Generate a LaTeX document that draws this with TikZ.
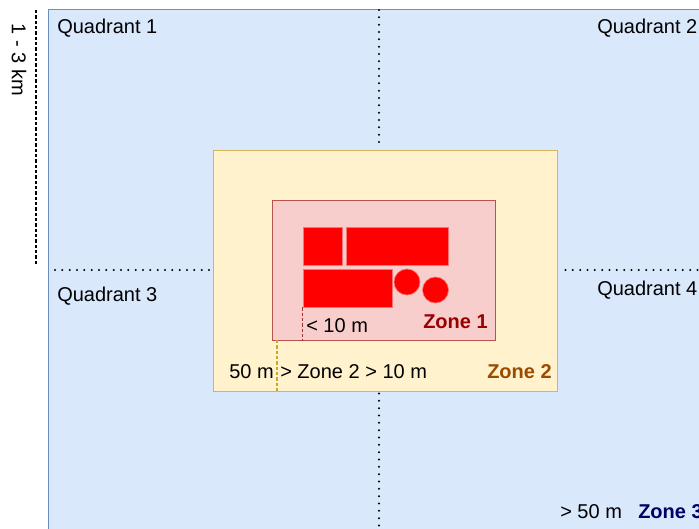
\documentclass[tikz,border=0pt]{standalone}
\usepackage{fontspec}
\setmainfont{Liberation Sans}
\usepackage{xcolor}
\usepackage{tikz}
\usetikzlibrary{positioning}

\definecolor{zthreefill}{HTML}{DAE8FC}
\definecolor{zthreeline}{HTML}{6C8EBF}
\definecolor{ztwofill}{HTML}{FFF2CC}
\definecolor{ztwoline}{HTML}{D6B656}
\definecolor{ztwodash}{HTML}{C8A828}
\definecolor{zonefill}{HTML}{F8CECC}
\definecolor{zoneline}{HTML}{B85450}
\definecolor{zonedash}{HTML}{A0302C}
\definecolor{zonetxt}{HTML}{990000}
\definecolor{ztwotxt}{HTML}{994C00}
\definecolor{zthreetxt}{HTML}{000066}

\begin{document}
\begin{tikzpicture}[
        x=0.75pt, y=-0.75pt,
        txt/.style={inner sep=0pt, anchor=west, font=\fontsize{15}{18}\selectfont},
        ztitle/.style={txt, font=\fontsize{15}{18}\selectfont\bfseries},
        zone/.style={draw, rectangle, line width=0.75pt, inner sep=0pt},
        block/.style={draw=red!55!white, fill=red, rectangle, line width=0.5pt, inner sep=0pt, minimum height=28.5pt},
        wheel/.style={draw=red!55!white, fill=red, circle, line width=0.5pt, inner sep=0pt, minimum size=19.5pt},
        quad/.style={line width=1.7pt, line cap=round, dash pattern=on 0pt off 5.5pt},
        dim/.style={line width=0.8pt, dash pattern=on 2.5pt off 1.5pt}
      ]
        \useasboundingbox (0,0) rectangle (699,528);
        \clip (0,0) rectangle (699,528);

        % zone 3 and the quadrant split
        \draw[fill=zthreefill, draw=zthreeline, line width=0.75pt] (48,10) rectangle (740,560);
        \node[zone, fill=ztwofill, draw=ztwoline, minimum width=258pt, minimum height=180.75pt] (zone2) at (385,270.5) {};
        \node[zone, fill=zonefill, draw=zoneline, minimum width=167.25pt, minimum height=105pt] (zone1) at (383.5,270) {};

        \coordinate (qtop) at (379,10);
        \coordinate (qbot) at (379,528);
        \coordinate (qleft) at (55,270);
        \coordinate (qright) at (699,270);
        \draw[quad] (qtop) -- ([yshift=1.5pt]zone2.north -| qtop);
        \draw[quad] ([yshift=-1.5pt]zone2.south -| qbot) -- (qbot);
        \draw[quad] (qleft) -- ([xshift=-1pt]zone2.west |- qleft);
        \draw[quad] ([xshift=6pt]zone2.east |- qright) -- (qright);

        \node[txt] (q1) at (57,28) {Quadrant 1};
        \node[txt] (q2) at (597,28) {Quadrant 2};
        \node[txt] (q3) at (57,296) {Quadrant 3};
        \node[txt] (q4) at (597,290) {Quadrant 4};

        % range of the whole area
        \coordinate (kmtop) at (36,10);
        \coordinate (kmbot) at (36,265);
        \draw[dim] (kmtop) -- (kmbot);
        \node[txt, anchor=center, rotate=-90] (km) at (19,60) {1 - 3 km};

        % site inside zone 1
        \node[block, minimum width=29.25pt] (blk1) at (322.5,246) {};
        \node[block, minimum width=76.5pt] (blk2) at (397,246) {};
        \node[block, minimum width=66.75pt] (blk3) at (347.5,288) {};
        \node[wheel] (tank1) at (407,282) {};
        \node[wheel] (tank2) at (435.5,290) {};

        \draw[dim, draw=zonedash] (blk3.south west) -- (blk3.south west |- zone1.south);
        \node[txt] (lt10) at (306,326) {< 10 m};
        \node[ztitle, text=zonetxt] (z1) at (423,322) {Zone 1};

        \coordinate (ztwodim) at (277,340);
        \draw[dim, draw=ztwodash] (ztwodim) -- (ztwodim |- zone2.south);
        \node[txt] (gt50) at (229,372) {50 m};
        \node[txt] (mid) at (280,372) {> Zone 2 > 10 m};
        \node[ztitle, text=ztwotxt] (z2) at (487,372) {Zone 2};

        \node[txt] (far) at (560,512) {> 50 m};
        \node[ztitle, text=zthreetxt] (z3) at (638,512) {Zone 3};
      \end{tikzpicture}
\end{document}
